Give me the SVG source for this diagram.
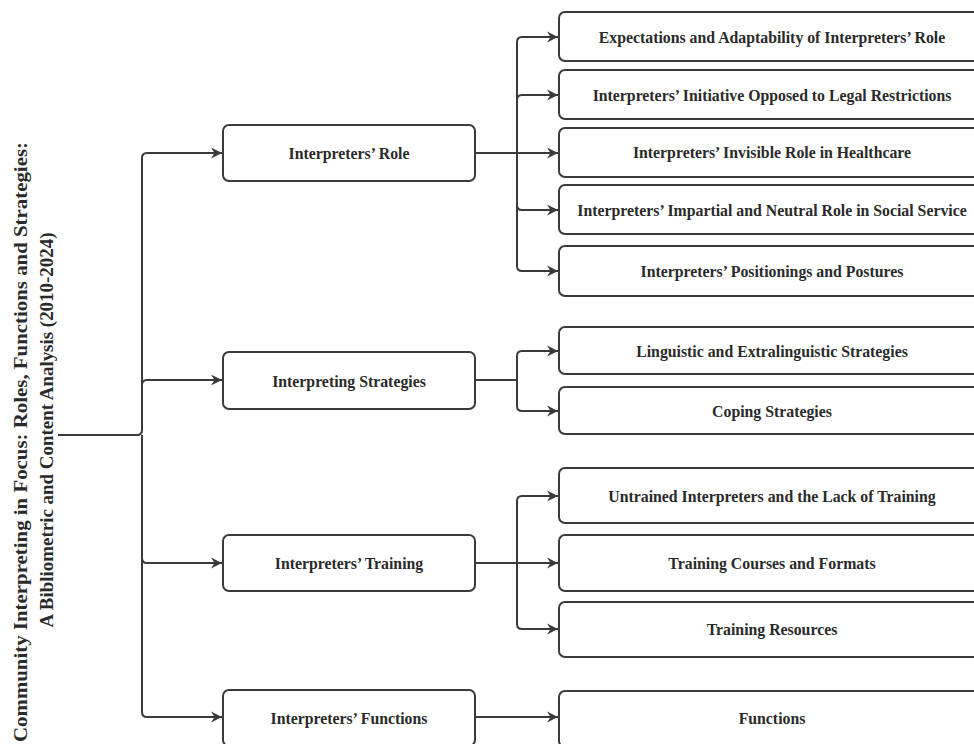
<svg xmlns="http://www.w3.org/2000/svg" width="974" height="744" viewBox="0 0 974 744">
<style>
.box{fill:#fff;stroke:#3a3a3a;stroke-width:2}
.lbl{font-family:"Liberation Serif","Times New Roman",serif;font-weight:bold;font-size:15.8px;fill:#2a2a2a;text-anchor:middle;dominant-baseline:central}
.title{font-family:"Liberation Serif","Times New Roman",serif;font-weight:bold;font-size:19px;fill:#2a2a2a;text-anchor:middle}
.edge{fill:none;stroke:#3a3a3a;stroke-width:2}
.arr{marker-end:url(#ah)}
</style>
<defs>
<marker id="ah" markerUnits="userSpaceOnUse" markerWidth="12" markerHeight="12" refX="11" refY="6" orient="auto">
<path d="M0,0.5 L11,6 L0,11.5 L3.5,6 z" fill="#3a3a3a"/>
</marker>
</defs>
<rect width="974" height="744" fill="#fff"/>
<g id="title">
<text class="title" transform="translate(27,442) rotate(-90)" textLength="600" lengthAdjust="spacingAndGlyphs">Community Interpreting in Focus: Roles, Functions and Strategies:</text>
<text class="title" transform="translate(53,430) rotate(-90)" textLength="395" lengthAdjust="spacingAndGlyphs">A Bibliometric and Content Analysis (2010-2024)</text>
</g>
<g id="connectors">
<path class="edge arr" d="M58,435 H137 Q142,435 142,430 V158 Q142,153 147,153 H222"/>
<path class="edge arr" d="M142,385 Q142,380 147,380 H222"/>
<path class="edge arr" d="M142,435 V558 Q142,563 147,563 H222"/>
<path class="edge arr" d="M142,558 V712 Q142,717 147,717 H222"/>
<path class="edge arr" d="M475,153 H558"/>
<path class="edge arr" d="M475,153 H517 V42 Q517,37 522,37 H558"/>
<path class="edge arr" d="M517,100 Q517,95 522,95 H558"/>
<path class="edge arr" d="M517,153 V205 Q517,210 522,210 H558"/>
<path class="edge arr" d="M517,205 V266 Q517,271 522,271 H558"/>
<path class="edge arr" d="M475,380 H517 V356 Q517,351 522,351 H558"/>
<path class="edge arr" d="M517,380 V406 Q517,411 522,411 H558"/>
<path class="edge arr" d="M475,563 H558"/>
<path class="edge arr" d="M517,563 V501 Q517,496 522,496 H558"/>
<path class="edge arr" d="M517,563 V624 Q517,629 522,629 H558"/>
<path class="edge arr" d="M475,717 H558"/>
</g>
<g id="n-role"><rect class="box" x="223" y="125" width="252" height="56" rx="6"/><text class="lbl" x="349" y="153">Interpreters’ Role</text></g>
<g id="n-strategies"><rect class="box" x="223" y="352" width="252" height="57" rx="6"/><text class="lbl" x="349" y="381">Interpreting Strategies</text></g>
<g id="n-training"><rect class="box" x="223" y="535" width="252" height="56" rx="6"/><text class="lbl" x="349" y="563">Interpreters’ Training</text></g>
<g id="n-functions"><rect class="box" x="223" y="690" width="252" height="56" rx="6"/><text class="lbl" x="349" y="718">Interpreters’ Functions</text></g>
<g id="n-expect"><rect class="box" x="559" y="12" width="426" height="49" rx="6"/><text class="lbl" x="772" y="37">Expectations and Adaptability of Interpreters’ Role</text></g>
<g id="n-initiative"><rect class="box" x="559" y="70" width="426" height="49" rx="6"/><text class="lbl" x="772" y="95">Interpreters’ Initiative Opposed to Legal Restrictions</text></g>
<g id="n-invisible"><rect class="box" x="559" y="128" width="426" height="49" rx="6"/><text class="lbl" x="772" y="152">Interpreters’ Invisible Role in Healthcare</text></g>
<g id="n-impartial"><rect class="box" x="559" y="185" width="426" height="49" rx="6"/><text class="lbl" x="772" y="210">Interpreters’ Impartial and Neutral Role in Social Service</text></g>
<g id="n-position"><rect class="box" x="559" y="246" width="426" height="50" rx="6"/><text class="lbl" x="772" y="271">Interpreters’ Positionings and Postures</text></g>
<g id="n-linguistic"><rect class="box" x="559" y="327" width="426" height="47" rx="6"/><text class="lbl" x="772" y="351">Linguistic and Extralinguistic Strategies</text></g>
<g id="n-coping"><rect class="box" x="559" y="387" width="426" height="47" rx="6"/><text class="lbl" x="772" y="411">Coping Strategies</text></g>
<g id="n-untrained"><rect class="box" x="559" y="468" width="426" height="55" rx="6"/><text class="lbl" x="772" y="496">Untrained Interpreters and the Lack of Training</text></g>
<g id="n-courses"><rect class="box" x="559" y="535" width="426" height="56" rx="6"/><text class="lbl" x="772" y="563">Training Courses and Formats</text></g>
<g id="n-resources"><rect class="box" x="559" y="602" width="426" height="55" rx="6"/><text class="lbl" x="772" y="629">Training Resources</text></g>
<g id="n-func"><rect class="box" x="559" y="691" width="426" height="56" rx="6"/><text class="lbl" x="772" y="718">Functions</text></g>
</svg>
